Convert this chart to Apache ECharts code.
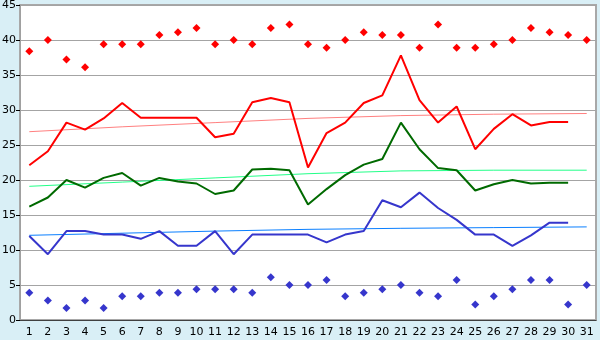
<!DOCTYPE html>
<html>
<head>
<meta charset="utf-8">
<script src="https://cdn.jsdelivr.net/npm/echarts@6/dist/echarts.min.js"></script>
<style>
  html, body { margin: 0; padding: 0; background: #d9eff6; }
  #chart { width: 600px; height: 340px; }
</style>
</head>
<body>
<div id="chart"></div>
<script>
// day labels on the x axis
const days = ["1","2","3","4","5","6","7","8","9","10","11","12","13","14","15","16",
  "17","18","19","20","21","22","23","24","25","26","27","28","29","30","31"];

// red diamonds (highest)
const maxPoints = [38.4, 40.0, 37.2, 36.1, 39.4, 39.4, 39.4, 40.7, 41.1, 41.7, 39.4, 40.0, 39.4, 41.7, 42.2, 39.4,
  38.9, 40.0, 41.1, 40.7, 40.7, 38.9, 42.2, 38.9, 38.9, 39.4, 40.0, 41.7, 41.1, 40.7, 40.0];
// red line
const redLine = [22.1, 24.1, 28.2, 27.2, 28.8, 31.0, 28.9, 28.9, 28.9, 28.9, 26.1, 26.6, 31.1, 31.7, 31.1, 21.8,
  26.7, 28.2, 31.0, 32.1, 37.8, 31.4, 28.2, 30.5, 24.4, 27.3, 29.4, 27.8, 28.3, 28.3];
// green line
const greenLine = [16.2, 17.5, 20.0, 18.9, 20.3, 21.0, 19.2, 20.3, 19.8, 19.5, 18.0, 18.5, 21.5, 21.6, 21.4, 16.5,
  18.7, 20.7, 22.2, 23.0, 28.2, 24.4, 21.7, 21.4, 18.5, 19.4, 20.0, 19.5, 19.6, 19.6];
// blue line
const blueLine = [12.0, 9.4, 12.7, 12.7, 12.2, 12.2, 11.6, 12.7, 10.6, 10.6, 12.7, 9.4, 12.2, 12.2, 12.2, 12.2,
  11.1, 12.2, 12.7, 17.1, 16.1, 18.2, 16.0, 14.3, 12.2, 12.2, 10.6, 12.1, 13.9, 13.9];
// blue diamonds (lowest)
const minPoints = [3.9, 2.8, 1.7, 2.8, 1.7, 3.4, 3.4, 3.9, 3.9, 4.4, 4.4, 4.4, 3.9, 6.1, 5.0, 5.0,
  5.7, 3.4, 3.9, 4.4, 5.0, 3.9, 3.4, 5.7, 2.2, 3.4, 4.4, 5.7, 5.7, 2.2, 5.0];

// trend lines, read at a few days
const trendDays = ["1", "6", "11", "16", "21", "26", "31"];
const redTrend = [26.9, 27.6, 28.2, 28.8, 29.2, 29.4, 29.5];
const greenTrend = [19.1, 19.7, 20.3, 20.9, 21.3, 21.4, 21.4];
const blueTrend = [12.1, 12.4, 12.7, 12.95, 13.1, 13.2, 13.3];

const yTicks = { min: 0, max: 45, interval: 5 };

const pairs = (vals) => trendDays.map((d, i) => [d, vals[i]]);

const lineSeries = (data, color, width) => ({
  type: "line",
  data: data,
  symbol: "none",
  silent: true,
  lineStyle: { color: color, width: width },
  animation: false,
});

const dotSeries = (data, color) => ({
  type: "scatter",
  data: data,
  symbol: "diamond",
  symbolSize: 8,
  itemStyle: { color: color, opacity: 1 },
  animation: false,
});

const chart = echarts.init(document.getElementById("chart"));
chart.setOption({
  backgroundColor: "#d9eff6",
  textStyle: { fontFamily: "DejaVu Sans" },
  grid: {
    left: 20,
    right: 4,
    top: 5,
    bottom: 20,
    containLabel: false,
    outerBoundsMode: "none",
    show: true,
    backgroundColor: "#ffffff",
    borderColor: "#a8a8a8",
    borderWidth: 2,
  },
  xAxis: {
    type: "category",
    data: days,
    axisLine: { lineStyle: { color: "#404040", width: 1 } },
    axisTick: { alignWithLabel: true, length: 5, lineStyle: { color: "#000" } },
    axisLabel: { color: "#000", fontSize: 11, margin: 7, interval: 0 },
    splitLine: { show: false },
  },
  yAxis: {
    type: "value",
    min: yTicks.min,
    max: yTicks.max,
    interval: yTicks.interval,
    axisLine: { show: true, lineStyle: { color: "#a0a0a0" } },
    axisTick: { show: true, length: 4, lineStyle: { color: "#000" } },
    axisLabel: { color: "#000", fontSize: 11, margin: 4 },
    splitLine: { lineStyle: { color: "#a4a4a4", width: 1 } },
  },
  series: [
    lineSeries(pairs(redTrend), "#ff8080", 1),
    lineSeries(pairs(greenTrend), "#22ff88", 1),
    lineSeries(pairs(blueTrend), "#0a7fff", 1),
    lineSeries(redLine, "#ff0000", 2),
    lineSeries(greenLine, "#006a00", 2),
    lineSeries(blueLine, "#3636cc", 2),
    dotSeries(maxPoints, "#ff0000"),
    dotSeries(minPoints, "#3636cc"),
  ],
});
</script>
</body>
</html>
